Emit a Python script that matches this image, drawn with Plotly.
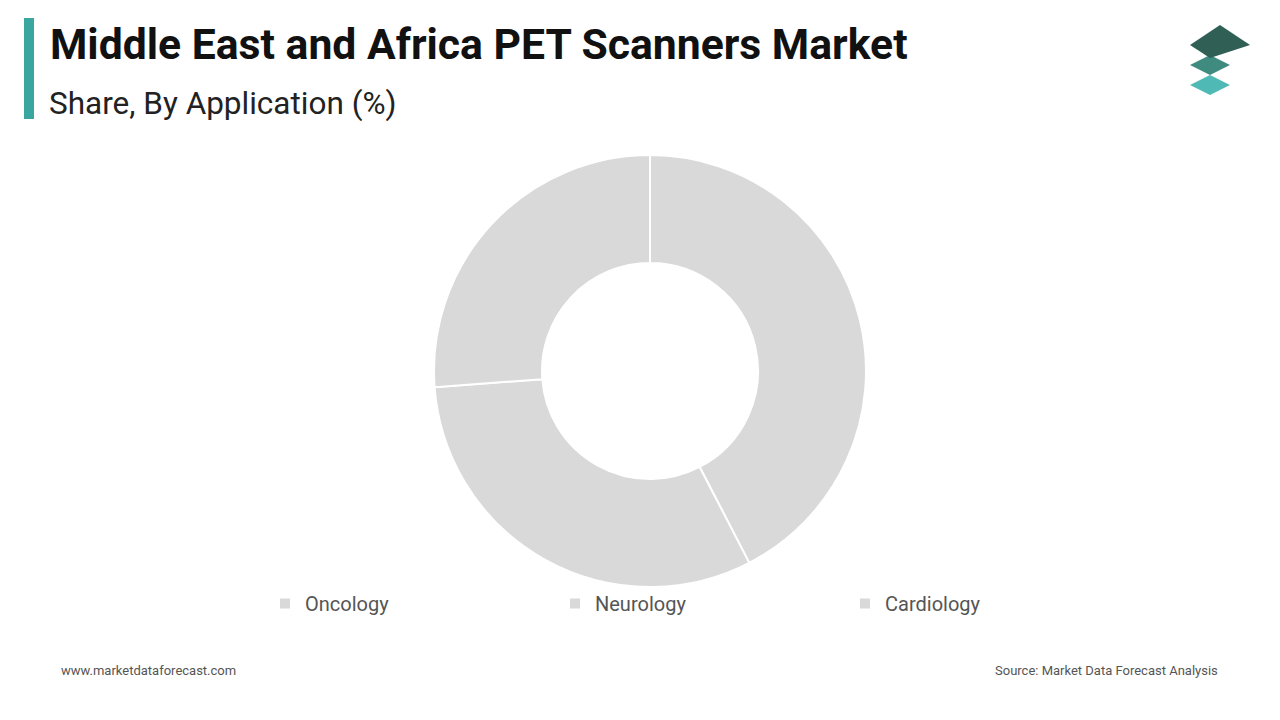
import plotly.graph_objects as go

labels = ["Oncology", "Neurology", "Cardiology"]
values = [42.4, 31.4, 26.2]

fig = go.Figure(go.Pie(
    labels=labels, values=values, hole=0.5, sort=False, direction="clockwise", rotation=0,
    marker=dict(colors=["#d9d9d9"] * 3, line=dict(color="white", width=2)),
    textinfo="none", hoverinfo="label+percent",
    domain=dict(x=[434/1280, 866/1280], y=[1-588/720, 1-154/720]),
))
fig.update_layout(
    width=1280, height=720, margin=dict(l=0, r=0, t=0, b=0),
    paper_bgcolor="white", plot_bgcolor="white",
    font=dict(family="Roboto", color="#444"),
    legend=dict(orientation="h", x=265/1280, y=1-584/720, xanchor="left", yanchor="top",
                bgcolor="rgba(0,0,0,0)",
                entrywidth=245, font=dict(size=20, color="#555"), itemclick=False),
    shapes=[
        dict(type="rect", xref="paper", yref="paper", x0=24/1280, x1=34/1280, y0=1-119/720, y1=1-18/720,
             fillcolor="#3aa6a0", line=dict(width=0)),
        dict(type="path", xref="paper", yref="paper", path="M 0.9297 0.8819 L 0.9453 0.8681 L 0.9609 0.8819 L 0.9453 0.8958 Z",
             fillcolor="#4fbab5", line=dict(width=0)),
        dict(type="path", xref="paper", yref="paper", path="M 0.9297 0.9097 L 0.9453 0.8958 L 0.9609 0.9097 L 0.9453 0.9236 Z",
             fillcolor="#3f8b80", line=dict(width=0)),
        dict(type="path", xref="paper", yref="paper", path="M 0.9297 0.9375 L 0.9453 0.9194 L 0.9766 0.9375 L 0.9531 0.9653 Z",
             fillcolor="#2f5f55", line=dict(width=0)),
    ],
    annotations=[
        dict(text="<b>Middle East and Africa PET Scanners Market</b>", x=48/1280, y=1-44/720, xref="paper", yref="paper",
             xanchor="left", yanchor="middle", showarrow=False, font=dict(size=42.7, color="#111", family="Roboto")),
        dict(text="Share, By Application (%)", x=47/1280, y=1-104/720, xref="paper", yref="paper",
             xanchor="left", yanchor="middle", showarrow=False, font=dict(size=31.5, color="#222", family="Roboto")),
        dict(text="www.marketdataforecast.com", x=59/1280, y=1-670/720, xref="paper", yref="paper",
             xanchor="left", yanchor="middle", showarrow=False, font=dict(size=13, color="#555")),
        dict(text="Source: Market Data Forecast Analysis", x=1220/1280, y=1-670/720, xref="paper", yref="paper",
             xanchor="right", yanchor="middle", showarrow=False, font=dict(size=13, color="#555")),
    ],
)
fig.write_html("out.html", config={"displayModeBar": False},
               post_script="document.body.style.margin='0';document.body.style.overflow='hidden';")
